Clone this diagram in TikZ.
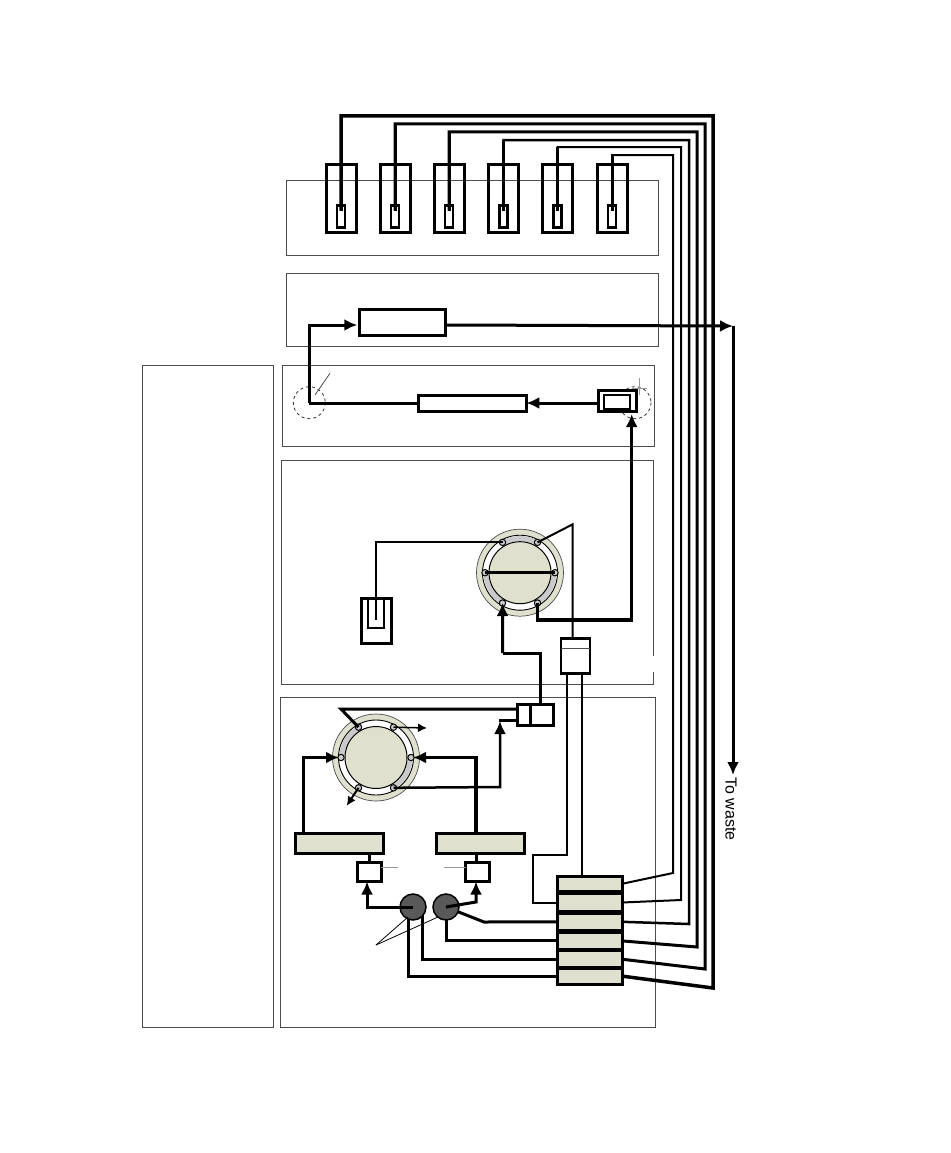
\documentclass[tikz,border=0pt]{standalone}
\usepackage{fontspec}
\setmainfont{Liberation Sans}
\usetikzlibrary{calc,arrows.meta}

\definecolor{khaki}{HTML}{DFE0CD}
\definecolor{arcgray}{HTML}{CACACA}
\definecolor{pumpgray}{HTML}{595959}

\tikzset{
  panel/.style={draw=black!70,line width=1pt},
  box/.style={draw,line width=3pt,inner sep=0pt,outer sep=0pt,fill=#1},
  box/.default=white,
  openbox/.style={draw,line width=3pt,inner sep=0pt,outer sep=0pt},
  tube/.style={line width=3pt,line join=miter},
  thintube/.style={line width=2pt,line join=miter},
  hair/.style={line width=0.8pt,black!70},
  ghost/.style={line width=1pt,black!40},
  bigtip/.style={-{Latex[length=13pt,width=12pt]}},
  smalltip/.style={-{Latex[length=9pt,width=9pt]}}
}

% valve: centre coordinate, name, list of start angles of the gray arcs
\newcommand{\rotorvalve}[3]{
  \begin{scope}[shift={(#1)},x=1pt,y=1pt]
    \fill[khaki] (0,0) circle (43.5);
    \draw[line width=0.7pt,black!70] (0,0) circle (43.5);
    \draw[line width=0.9pt,fill=white] (0,0) circle (37.5);
    \foreach \a in {#3}
      \draw[line width=5pt,arcgray] (\a:34.2) arc[start angle=\a,end angle=\a+60,radius=34.2];
    \draw[line width=1pt,fill=khaki] (0,0) circle (31);
    \foreach \p/\a in {1/120,2/60,3/0,4/300,5/240,6/180} {
      \coordinate (#2\p) at (\a:35);
      \draw[line width=1pt,fill=arcgray] (\a:35) circle (3.2);
    }
  \end{scope}
}

\begin{document}
\begin{tikzpicture}[x=1pt,y=-1pt]
  \useasboundingbox (0,0) rectangle (950,1153);

  % panels
  \draw[panel] (142,365) rectangle (273,1027);
  \draw[panel] (286,180) rectangle (658,255);
  \draw[panel] (286,273) rectangle (658,346);
  \draw[panel] (282,365) rectangle (654,446);
  \draw[panel] (653,656) -- (653,460) -- (281,460) -- (281,684) -- (653,684) -- (653,672);
  \draw[panel] (280,697) rectangle (655,1027);

  % vials
  \foreach \i/\x in {1/341,2/395,3/449,4/503.5,5/557.5,6/612} {
    \node[openbox,minimum width=30pt,minimum height=68pt] (vial\i) at (\x,198) {};
    \node[openbox,line width=2.5pt,minimum width=8pt,minimum height=22pt] (tip\i) at (\x,216.5) {};
  }

  % selection manifold
  \foreach \i/\y/\h in {1/883.8/15.2,2/902.5/17.1,3/921.8/16.5,4/940.9/16.7,5/959.2/17,6/976.1/15.8}
    \node[box=khaki,minimum width=65pt,minimum height=\h pt] (cell\i) at (589.5,\y) {};

  % tubes from the vials to the manifold
  \foreach \i/\c/\xr/\yt/\yl/\w in {1/6/713/116/988/3.5,2/5/705/124/969/3,3/4/697/132/947/3,
      4/3/689/140/924/2.5,5/2/681/147/900/2,6/1/673/155/873/2} {
    \draw[line width=\w pt] ([yshift=-5pt]tip\i.north) |- (\xr,\yt) -- (\xr,\yl) -- (cell\c.east);
    \draw[tube] ([yshift=-5pt]tip\i.north) -- (tip\i.north |- 0,\yt);
  }

  % detector and waste
  \node[box,minimum width=86pt,minimum height=26pt] (detector) at (402.3,322.5) {};
  \coordinate (wastecorner) at (733,326);
  \coordinate (wastetip) at (733,775);
  \node[rotate=-90,font=\fontsize{16}{18}\selectfont] (wastelabel) at (731,809) {To waste};
  \draw[tube,bigtip] ([yshift=-2.5pt]detector.east) -- (wastecorner);
  \draw[tube,bigtip] (wastecorner) -- (wastetip);

  % column
  \draw[dashed,line width=0.8pt,black!80] (309.3,402.7) circle (16);
  \draw[dashed,line width=0.8pt,black!80] (635,402.7) circle (16);
  \draw[hair] (330,373.3) -- (315,395);
  \draw[ghost] (639.3,378) -- (639.3,395);
  \draw[ghost] (632,388) -- (647,388);
  \node[box,minimum width=108pt,minimum height=16pt] (column) at (472.3,403) {};
  \node[box,minimum width=38pt,minimum height=21pt] (injector) at (617.5,401.3) {};
  \node[openbox,line width=1.5pt,minimum width=26pt,minimum height=14pt] (injectorin) at (617,402) {};
  \coordinate (columnturn) at (309.3,403);
  \draw[tube] (column.west) -- (columnturn);
  \draw[tube,bigtip] (columnturn) |- ([xshift=-2pt,yshift=-2.5pt]detector.west);
  \draw[tube,bigtip] (injector.west |- column) -- (column.east);

  % upper valve
  \coordinate (valveup) at (520,572.7);
  \rotorvalve{valveup}{up}{60,180,300}
  \node[openbox,minimum width=30pt,minimum height=45pt] (loopvial) at (376.3,620.5) {};
  \coordinate (loopin) at (376,620);
  \draw[line width=1.5pt] (368,597) -- (368,628) -- (384,628) -- (384,597);
  \draw[thintube] (up1) -| (loopin);
  \draw[tube] (up6) -- (up3);
  \node[openbox,line width=2.5pt,minimum width=29pt,minimum height=35pt] (splitbox) at (575.3,656) {};
  \draw[line width=1pt,black!70] (splitbox.west |- 0,648) -- (splitbox.east |- 0,648);
  \coordinate (upbranch) at (572.7,524.3);
  \draw[thintube] (up2) -- (upbranch) -- (upbranch |- splitbox.north);
  \draw[line width=3.5pt,bigtip] (up4) |- (631.7,620) -- (631.7,414);

  % lower valve
  \coordinate (valvelow) at (376,757.5);
  \rotorvalve{valvelow}{low}{120,300}
  \node[box=khaki,minimum width=88pt,minimum height=20pt] (leftbar) at (339,843.5) {};
  \node[box=khaki,minimum width=88pt,minimum height=20pt] (rightbar) at (480,843.5) {};
  \node[box,minimum width=24pt,minimum height=19pt] (boxa) at (369,872) {};
  \node[box,minimum width=24pt,minimum height=19pt] (boxb) at (477.5,872) {};
  \node[openbox,minimum width=13pt,minimum height=21pt] (teeleft) at (523.5,715) {};
  \node[openbox,minimum width=23pt,minimum height=21pt] (teeright) at (541.5,715) {};
  \draw[tube] (boxa.north) -- (boxa.north |- leftbar.south);
  \draw[tube] (boxb.north -| 476,0) -- (476,853);
  \draw[ghost] (boxa.east |- 0,867) -- (398,867);
  \draw[ghost] (444,867) -- (boxb.west |- 0,867);
  \draw[tube,bigtip] ([xshift=-36pt]leftbar.north) |- ([xshift=-2pt]low6);
  \draw[line width=3.5pt,bigtip] ([xshift=-4pt]rightbar.north) |- ([xshift=2pt]low3);
  \coordinate (lowcorner) at (341,709);
  \draw[tube] (low1) -- (lowcorner) -- ([yshift=6pt]teeleft.west);
  \coordinate (lowout) at (427,728);
  \coordinate (lowdrain) at (346.7,805.7);
  \draw[line width=1.5pt,smalltip] (low2) -- (lowout);
  \draw[line width=2pt,smalltip] (low5) -- (lowdrain);
  \coordinate (lowup) at (500,721);
  \draw[line width=2.5pt,bigtip] (low4) -- (500,787) -- (lowup);
  \draw[line width=2.5pt] (499,720.7) -- ([yshift=-5.7pt]teeleft.west);
  \draw[tube] (teeright.north -| 540,0) |- (502.7,653);
  \draw[tube,bigtip] (502.7,653) -- (up5);

  % lines from the split box down to the manifold
  \draw[thintube] ([xshift=6.4pt]splitbox.south) -- ([xshift=-7.8pt]cell1.north);
  \draw[thintube] ([xshift=-8.6pt]splitbox.south) |- (533,855) |- (cell2.west);

  % pumps
  \draw[tube] (cell3.west) -- (484,922) -- (446,907);
  \draw[tube] (cell4.west) -| (446,907);
  \draw[tube] (cell5.west) -| (422.7,907);
  \draw[tube] (cell6.west) -| (408,907);
  \node[circle,draw,line width=1.5pt,fill=pumpgray,minimum size=26pt,inner sep=0pt] (pumpa) at (413,907) {};
  \node[circle,draw,line width=1.5pt,fill=pumpgray,minimum size=26pt,inner sep=0pt] (pumpb) at (446,907) {};
  \draw[tube,bigtip] (pumpa.center) -| ([xshift=-2pt]boxa.south);
  \draw[tube,bigtip] (pumpb.center) -- (476,902) -- (476,881.5);
  \coordinate (pumplabel) at (376,945);
  \draw[line width=0.8pt] (pumplabel) -- (408,917);
  \draw[line width=0.8pt] (pumplabel) -- (438,917);
\end{tikzpicture}
\end{document}
